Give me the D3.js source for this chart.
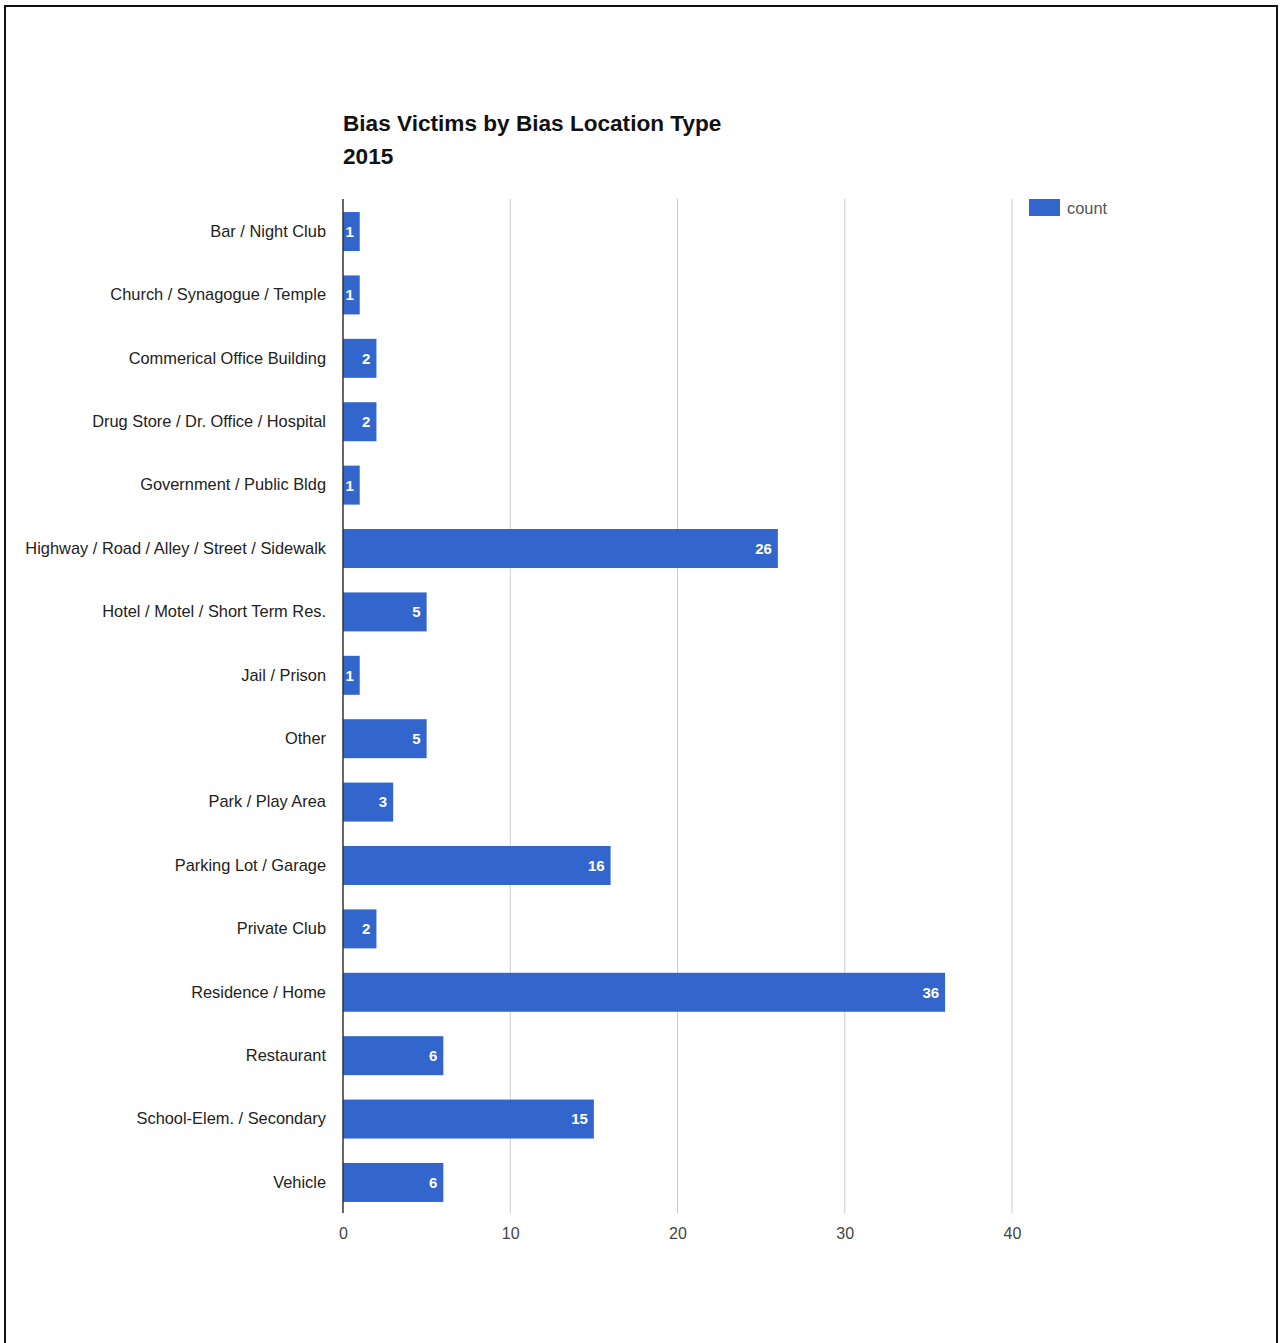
<!DOCTYPE html>
<html>
<head>
<meta charset="utf-8">
<script src="https://cdn.jsdelivr.net/npm/d3@7"></script>
<style>
  html, body { margin: 0; padding: 0; background: #fff; }
  svg { display: block; }
  text { font-family: "Liberation Sans", Arial, sans-serif; }
</style>
</head>
<body>
<svg id="chart" width="1282" height="1343"></svg>
<script>
const titleLines = ["Bias Victims by Bias Location Type", "2015"];
const categories = [
  "Bar / Night Club",
  "Church / Synagogue / Temple",
  "Commerical Office Building",
  "Drug Store / Dr. Office / Hospital",
  "Government / Public Bldg",
  "Highway / Road / Alley / Street / Sidewalk",
  "Hotel / Motel / Short Term Res.",
  "Jail / Prison",
  "Other",
  "Park / Play Area",
  "Parking Lot / Garage",
  "Private Club",
  "Residence / Home",
  "Restaurant",
  "School-Elem. / Secondary",
  "Vehicle"
];
const counts = [1, 1, 2, 2, 1, 26, 5, 1, 5, 3, 16, 2, 36, 6, 15, 6];
const xTicks = [0, 10, 20, 30, 40];
const seriesName = "count";

const svg = d3.select("#chart");
const color = "#3366cc";

// frame
svg.append("rect").attr("x", 5).attr("y", 6).attr("width", 1272).attr("height", 1345)
  .attr("fill", "none").attr("stroke", "#111").attr("stroke-width", 2);

const pLeft = 343, pRight = 1012, pTop = 199, pBottom = 1213;
const x = d3.scaleLinear().domain([0, 40]).range([pLeft, pRight]);
const y = d3.scaleBand().domain(categories).range([pTop + 1, pBottom + 1]).paddingInner(0.385).paddingOuter(0.19);

// gridlines
svg.append("g").selectAll("line").data(xTicks.filter(d => d > 0)).join("line")
  .attr("x1", d => x(d)).attr("x2", d => x(d)).attr("y1", pTop).attr("y2", pBottom)
  .attr("stroke", "#cccccc").attr("stroke-width", 1);

// bars
svg.append("g").selectAll("rect").data(counts).join("rect")
  .attr("x", x(0)).attr("y", (d, i) => y(categories[i]))
  .attr("width", d => x(d) - x(0)).attr("height", y.bandwidth())
  .attr("fill", color);

// value labels
svg.append("g").selectAll("text").data(counts).join("text")
  .attr("x", d => x(d) - 6).attr("y", (d, i) => y(categories[i]) + y.bandwidth() / 2)
  .attr("dy", "0.36em").attr("text-anchor", "end")
  .attr("fill", "#fff").attr("font-weight", "bold").attr("font-size", 15)
  .text(d => d);

// baseline
svg.append("line").attr("x1", pLeft).attr("x2", pLeft).attr("y1", pTop).attr("y2", pBottom)
  .attr("stroke", "#333").attr("stroke-width", 1.5);

// y axis labels
const yAxis = d3.axisLeft(y).tickSize(0).tickPadding(17);
const gy = svg.append("g").attr("transform", `translate(${pLeft},0)`).call(yAxis);
gy.select(".domain").remove();
gy.selectAll("text").attr("font-size", 16.4).attr("fill", "#222")
  .attr("font-family", "'Liberation Sans', Arial, sans-serif");

// x axis labels
const xAxis = d3.axisBottom(x).tickValues(xTicks).tickSize(0).tickPadding(15).tickFormat(d3.format("d"));
const gx = svg.append("g").attr("transform", `translate(0,${pBottom})`).call(xAxis);
gx.select(".domain").remove();
gx.selectAll("text").attr("font-size", 16).attr("fill", "#444")
  .attr("font-family", "'Liberation Sans', Arial, sans-serif");

// title
svg.append("g").selectAll("text").data(titleLines).join("text")
  .attr("x", pLeft).attr("y", (d, i) => 131 + i * 33)
  .attr("font-size", 22.6).attr("font-weight", "bold").attr("fill", "#111")
  .text(d => d);

// legend
svg.append("rect").attr("x", 1029).attr("y", 199).attr("width", 31).attr("height", 17).attr("fill", color);
svg.append("text").attr("x", 1067).attr("y", 208).attr("dy", "0.36em")
  .attr("font-size", 16.4).attr("fill", "#555").text(seriesName);
</script>
</body>
</html>
